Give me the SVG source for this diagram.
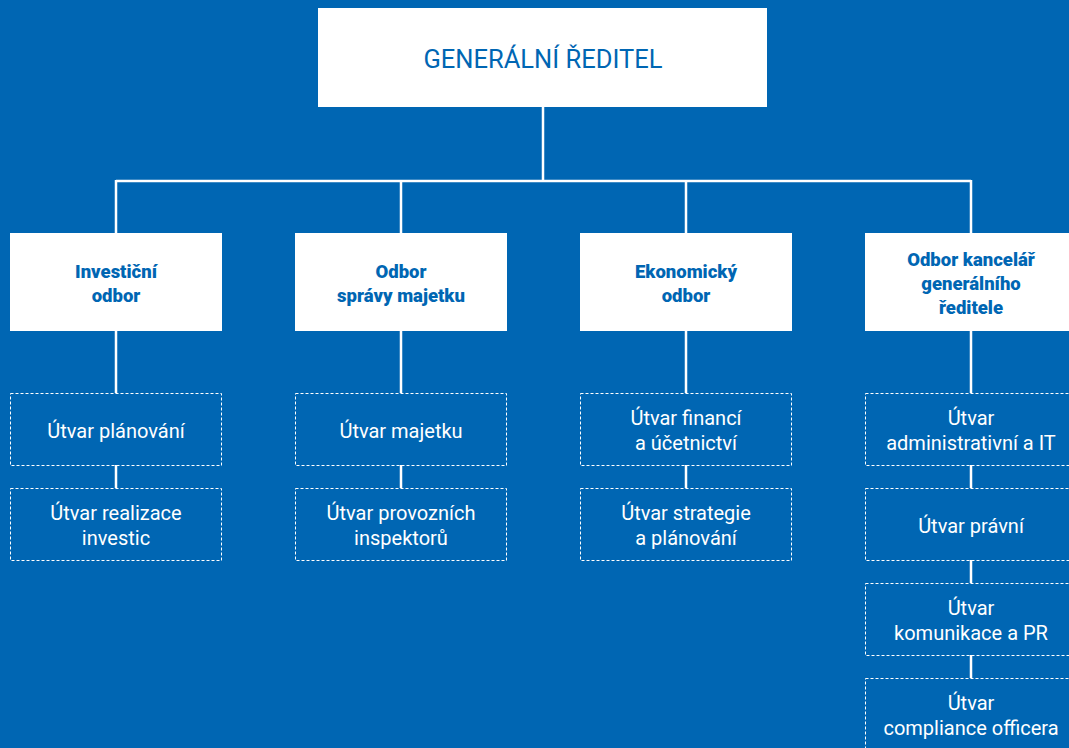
<svg xmlns="http://www.w3.org/2000/svg" width="1069" height="748" viewBox="0 0 1069 748">
<style>
.bg{fill:#0066b3}
.box{fill:#ffffff}
.dbox{fill:none;stroke:#ffffff;stroke-width:1;stroke-dasharray:3 2}
.ln{stroke:#ffffff;stroke-width:2.5;fill:none}
.t0{font-family:Roboto,"Liberation Sans",sans-serif;font-size:25.5px;fill:#0066b3;text-anchor:middle}
.t1{font-family:Roboto,"Liberation Sans",sans-serif;font-size:18.5px;font-weight:900;fill:#0066b3;text-anchor:middle}
.t2{font-family:Roboto,"Liberation Sans",sans-serif;font-size:20px;fill:#ffffff;text-anchor:middle}
</style>
<rect class="bg" x="0" y="0" width="1069" height="748"/>
<g id="connectors">
<path class="ln" d="M543 107V181M116 181H971M116 180V233M401 180V233M686 180V233M971 180V233"/>
<path class="ln" d="M116 331V393M116 465V488M401 331V393M401 465V488M686 331V393M686 465V488M971 331V393M971 465V488M971 560V583M971 655V678"/>
</g>
<g id="gr"><rect class="box" x="318" y="8" width="449" height="99"/><text class="t0" x="543" y="68">GENERÁLNÍ ŘEDITEL</text></g>
<g id="inv"><rect class="box" x="10" y="233" width="212" height="98"/><text class="t1" x="116" y="278">Investiční</text><text class="t1" x="116" y="302">odbor</text></g>
<g id="spr"><rect class="box" x="295" y="233" width="212" height="98"/><text class="t1" x="401" y="278">Odbor</text><text class="t1" x="401" y="302">správy majetku</text></g>
<g id="eko"><rect class="box" x="580" y="233" width="212" height="98"/><text class="t1" x="686" y="278">Ekonomický</text><text class="t1" x="686" y="302">odbor</text></g>
<g id="kan"><rect class="box" x="865" y="233" width="212" height="98"/><text class="t1" x="971" y="266">Odbor kancelář</text><text class="t1" x="971" y="290">generálního</text><text class="t1" x="971" y="314">ředitele</text></g>
<g id="u1"><rect class="dbox" x="10.5" y="393.5" width="211" height="72"/><text class="t2" x="116" y="438">Útvar plánování</text></g>
<g id="u2"><rect class="dbox" x="10.5" y="488.5" width="211" height="72"/><text class="t2" x="116" y="520">Útvar realizace</text><text class="t2" x="116" y="545">investic</text></g>
<g id="u3"><rect class="dbox" x="295.5" y="393.5" width="211" height="72"/><text class="t2" x="401" y="438">Útvar majetku</text></g>
<g id="u4"><rect class="dbox" x="295.5" y="488.5" width="211" height="72"/><text class="t2" x="401" y="520">Útvar provozních</text><text class="t2" x="401" y="545">inspektorů</text></g>
<g id="u5"><rect class="dbox" x="580.5" y="393.5" width="211" height="72"/><text class="t2" x="686" y="425">Útvar financí</text><text class="t2" x="686" y="450">a účetnictví</text></g>
<g id="u6"><rect class="dbox" x="580.5" y="488.5" width="211" height="72"/><text class="t2" x="686" y="520">Útvar strategie</text><text class="t2" x="686" y="545">a plánování</text></g>
<g id="u7"><rect class="dbox" x="865.5" y="393.5" width="211" height="72"/><text class="t2" x="971" y="425">Útvar</text><text class="t2" x="971" y="450">administrativní a IT</text></g>
<g id="u8"><rect class="dbox" x="865.5" y="488.5" width="211" height="72"/><text class="t2" x="971" y="533">Útvar právní</text></g>
<g id="u9"><rect class="dbox" x="865.5" y="583.5" width="211" height="72"/><text class="t2" x="971" y="615">Útvar</text><text class="t2" x="971" y="640">komunikace a PR</text></g>
<g id="u10"><rect class="dbox" x="865.5" y="678.5" width="211" height="72"/><text class="t2" x="971" y="710">Útvar</text><text class="t2" x="971" y="735">compliance officera</text></g>
</svg>
